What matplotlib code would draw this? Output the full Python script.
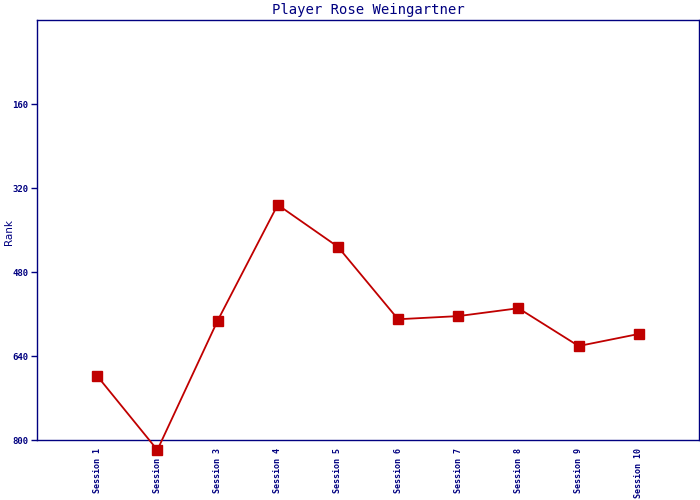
import matplotlib
matplotlib.use('Agg')
import matplotlib.pyplot as plt

# sessions and the player's rank per session
sessions = ['Session 1', 'Session 2', 'Session 3', 'Session 4', 'Session 5',
            'Session 6', 'Session 7', 'Session 8', 'Session 9', 'Session 10']
ranks = [678, 819, 573, 352, 432, 570, 564, 549, 621, 598]
y_ticks = [160, 320, 480, 640, 800]

navy = '#000080'
red = '#C00000'

fig = plt.figure(figsize=(7, 5), dpi=100)
ax = fig.add_axes([37 / 700, 60 / 500, 662 / 700, 420 / 500])

x = list(range(1, len(sessions) + 1))
ax.plot(x, ranks, '-s', color=red, linewidth=1.3, markersize=7.5,
        clip_on=False, zorder=3)

ax.set_xlim(0, 11)
ax.set_ylim(800, 0)
ax.set_yticks(y_ticks)
ax.set_yticklabels([str(v) for v in y_ticks], family='DejaVu Sans Mono',
                   fontsize=6.5, color=navy, fontweight='bold')
ax.set_xticks(x)
ax.set_xticklabels(sessions, rotation=90, family='DejaVu Sans Mono',
                   fontsize=6, color=navy, fontweight='bold')
ax.tick_params(axis='y', color=navy, length=4, width=1, pad=2)
ax.tick_params(axis='x', length=0, pad=6)

for sp in ax.spines.values():
    sp.set_color(navy)
    sp.set_linewidth(1)

# y label sits at the very left edge of the figure
fig.text(9 / 700, 1 - 232 / 500, 'Rank', rotation=90, ha='center',
         va='center', color=navy, fontsize=7.5)
ax.set_title('Player Rose Weingartner', family='DejaVu Sans Mono',
             fontsize=10, color=navy, pad=4)

fig.savefig('out.png', dpi=100)
